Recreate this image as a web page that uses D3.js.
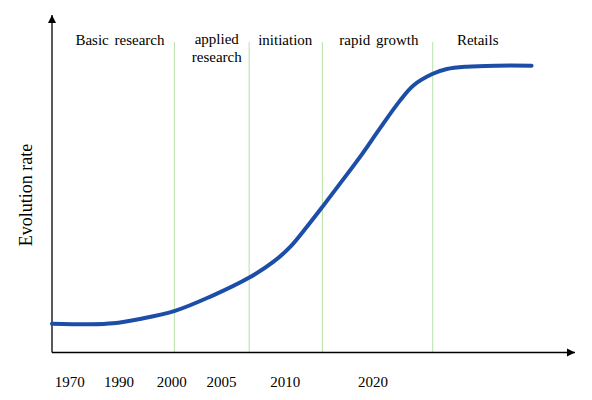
<!DOCTYPE html>
<html>
<head>
<meta charset="utf-8">
<script src="https://cdn.jsdelivr.net/npm/d3@7"></script>
<style>
  html, body { margin: 0; padding: 0; background: #fff; }
  svg { display: block; }
  text { font-family: "Liberation Serif", "Times New Roman", serif; fill: #000; }
</style>
</head>
<body>
<svg id="chart" width="592" height="400"></svg>
<script>
// ---- data (abstract progress units 0–100 on both axes) ----
const curveX = [0, 7.3, 11.7, 16.8, 23.5, 30.2, 37.9, 42.3, 45.5, 48.7, 51.7, 55.1, 58.9, 62.7, 66.5, 69.1, 72.7, 75.5, 79.3, 85.0, 91.7];
const curveY = [8.6, 8.4, 8.7, 10.0, 12.4, 16.6, 22.5, 27.0, 31.4, 37.4, 43.4, 50.4, 58.3, 66.8, 75.0, 79.6, 83.0, 84.5, 85.2, 85.5, 85.5];
const phaseBounds = [23.4, 37.7, 51.7, 72.8];
const phaseLabels = [["Basic research"], ["applied", "research"], ["initiation"], ["rapid growth"], ["Retails"]];
const phaseLabelX = [13.0, 31.5, 44.6, 62.5, 81.4];
const tickLabels = ["1970", "1990", "2000", "2005", "2010", "2020"];
const tickPos = [3.4, 12.8, 22.9, 32.4, 44.6, 61.4];
const yTitle = "Evolution rate";

// ---- layout ----
const svg = d3.select("#chart");
const x = d3.scaleLinear().domain([0, 100]).range([52, 575]);
const y = d3.scaleLinear().domain([0, 100]).range([352.5, 17]);

// phase boundary lines
svg.append("g").selectAll("line").data(phaseBounds).join("line")
  .attr("x1", d => x(d)).attr("x2", d => x(d))
  .attr("y1", y(92.5)).attr("y2", y(0))
  .attr("stroke", "#b7e1a6").attr("stroke-width", 1);

// axes with arrows
const defs = svg.append("defs");
defs.append("marker").attr("id", "arr").attr("viewBox", "0 0 10 10")
  .attr("refX", 10).attr("refY", 5).attr("markerWidth", 8).attr("markerHeight", 9)
  .attr("markerUnits", "userSpaceOnUse").attr("orient", "auto")
  .append("path").attr("d", "M0,0 L10,5 L0,10 Z").attr("fill", "#000");

svg.append("line").attr("x1", x(0)).attr("x2", x(100)).attr("y1", y(0)).attr("y2", y(0))
  .attr("stroke", "#000").attr("stroke-width", 1.3).attr("marker-end", "url(#arr)");
svg.append("line").attr("x1", x(0)).attr("x2", x(0)).attr("y1", y(0)).attr("y2", y(100) - 2)
  .attr("stroke", "#000").attr("stroke-width", 1.3).attr("marker-end", "url(#arr)");

// tick labels
svg.append("g").selectAll("text").data(tickLabels).join("text")
  .attr("x", (d, i) => x(tickPos[i])).attr("y", 387)
  .attr("text-anchor", "middle").style("font-size", "15px")
  .text(d => d);

// y title
svg.append("text")
  .attr("transform", `translate(32,${195}) rotate(-90)`)
  .attr("text-anchor", "middle").style("font-size", "18px")
  .text(yTitle);

// phase labels
const pl = svg.append("g").selectAll("text").data(phaseLabels).join("text")
  .attr("x", (d, i) => x(phaseLabelX[i]))
  .attr("y", d => d.length > 1 ? 44 : 45)
  .attr("text-anchor", "middle").style("font-size", "15px").style("word-spacing", "2px");
pl.each(function(d, i) {
  const t = d3.select(this);
  d.forEach((line, j) => {
    t.append("tspan").attr("x", x(phaseLabelX[i])).attr("dy", j === 0 ? 0 : 18).text(line);
  });
});

// curve
const pts = curveX.map((v, i) => [v, curveY[i]]);
svg.append("path").datum(pts)
  .attr("fill", "none").attr("stroke", "#1c4ea8").attr("stroke-width", 4)
  .attr("stroke-linecap", "round")
  .attr("d", d3.line().x(d => x(d[0])).y(d => y(d[1])).curve(d3.curveCatmullRom.alpha(0.5)));
</script>
</body>
</html>
